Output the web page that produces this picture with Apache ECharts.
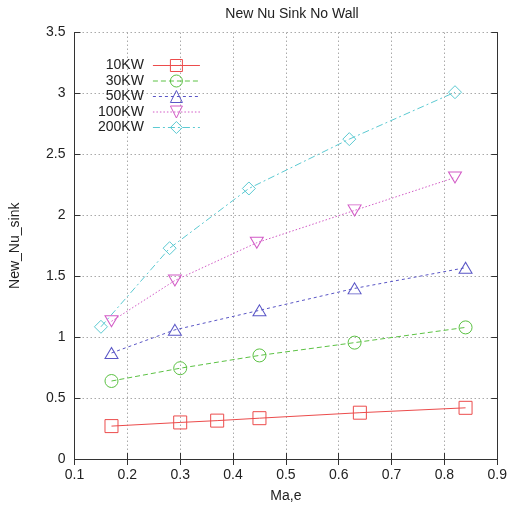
<!DOCTYPE html>
<html>
<head>
<meta charset="utf-8">
<script src="https://cdn.jsdelivr.net/npm/echarts@6/dist/echarts.min.js"></script>
<style>
  html, body { margin: 0; padding: 0; background: #fff; }
  #chart { width: 510px; height: 509px; }
</style>
</head>
<body>
<div id="chart"></div>
<script>
// Nusselt number at the sink versus Ma,e for several heat loads
const seriesNames = ['10KW', '30KW', '50KW', '100KW', '200KW'];

const x10KW = [0.17, 0.30, 0.37, 0.45, 0.64, 0.84];
const y10KW = [0.27, 0.30, 0.315, 0.335, 0.38, 0.42];

const x30KW = [0.17, 0.30, 0.45, 0.63, 0.84];
const y30KW = [0.64, 0.745, 0.85, 0.955, 1.08];

const x50KW = [0.17, 0.29, 0.45, 0.63, 0.84];
const y50KW = [0.87, 1.06, 1.22, 1.40, 1.57];

const x100KW = [0.17, 0.29, 0.445, 0.63, 0.82];
const y100KW = [1.13, 1.465, 1.775, 2.04, 2.31];

const x200KW = [0.15, 0.28, 0.43, 0.62, 0.82];
const y200KW = [1.085, 1.73, 2.22, 2.625, 3.01];

const xTicks = [0.1, 0.2, 0.3, 0.4, 0.5, 0.6, 0.7, 0.8, 0.9];
const yTicks = [0, 0.5, 1, 1.5, 2, 2.5, 3, 3.5];

const FONT = 'Liberation Sans';
const colors = ['#ec4c4c', '#5cc244', '#5a56c6', '#d25ac6', '#5ccad2'];
const dashes = ['solid', [5, 3], [3, 3], [1.5, 2], [7, 3, 2, 3]];
const symbols = ['rect', 'circle', 'triangle', 'path://M0,0 L10,0 L5,8.7 Z', 'diamond'];
const symbolSizes = [13, 13, [13, 11], [13, 11], 13];
const xs = [x10KW, x30KW, x50KW, x100KW, x200KW];
const ys = [y10KW, y30KW, y50KW, y100KW, y200KW];

const chart = echarts.init(document.getElementById('chart'), null, { renderer: 'canvas' });

const frameAxis = {
  axisLine: { show: true, lineStyle: { color: '#333', width: 1 } },
  axisTick: { show: true, inside: true, length: 6, lineStyle: { color: '#333' } }
};

const series = seriesNames.map((name, i) => ({
  name: name,
  type: 'line',
  xAxisIndex: 0,
  yAxisIndex: 0,
  data: xs[i].map((x, k) => [x, ys[i][k]]),
  symbol: symbols[i],
  symbolSize: symbolSizes[i],
  showAllSymbol: true,
  lineStyle: { color: colors[i], width: 1, type: dashes[i] },
  itemStyle: { color: 'rgba(0,0,0,0)', borderColor: colors[i], borderWidth: 1 },
  emphasis: { disabled: true },
  animation: false,
  z: 3
}));

chart.setOption({
  backgroundColor: '#fff',
  animation: false,
  title: {
    text: 'New Nu Sink No Wall',
    left: 287,
    textAlign: 'center',
    top: 2,
    textStyle: { fontFamily: FONT, fontSize: 14, fontWeight: 'normal', color: '#222' }
  },
  grid: { left: 74.5, right: 10, top: 32.5, bottom: 50, containLabel: false },
  legend: {
    orient: 'vertical',
    align: 'right',
    left: 93,
    top: 53.5,
    itemWidth: 47,
    itemHeight: 15,
    itemGap: 1.5,
    data: seriesNames,
    itemStyle: { borderWidth: 1 },
    lineStyle: { width: 1 },
    textStyle: { fontFamily: FONT, fontSize: 14, color: '#222', padding: [0, 4, 0, 0] }
  },
  xAxis: [
    Object.assign({
      type: 'value',
      position: 'bottom',
      min: xTicks[0],
      max: xTicks[xTicks.length - 1],
      interval: 0.1,
      name: 'Ma,e',
      nameLocation: 'middle',
      nameGap: 30,
      nameTextStyle: { fontFamily: FONT, fontSize: 14, color: '#222' },
      axisLabel: {
        margin: 9,
        fontFamily: FONT, fontSize: 14, color: '#222',
        formatter: v => String(Math.round(v * 10) / 10)
      },
      splitLine: { show: true, lineStyle: { color: '#aaa', type: [1.5, 2.5], width: 1 } }
    }, frameAxis),
    Object.assign({
      type: 'value',
      position: 'top',
      min: xTicks[0],
      max: xTicks[xTicks.length - 1],
      interval: 0.1,
      axisLabel: { show: false },
      splitLine: { show: false }
    }, frameAxis)
  ],
  yAxis: [
    Object.assign({
      type: 'value',
      position: 'left',
      min: yTicks[0],
      max: yTicks[yTicks.length - 1],
      interval: 0.5,
      name: 'New_Nu_sink',
      nameLocation: 'middle',
      nameGap: 52,
      nameTextStyle: { fontFamily: FONT, fontSize: 14, color: '#222' },
      axisLabel: {
        margin: 9,
        fontFamily: FONT, fontSize: 14, color: '#222',
        formatter: v => String(v)
      },
      splitLine: { show: true, lineStyle: { color: '#aaa', type: [1.5, 2.5], width: 1 } }
    }, frameAxis),
    Object.assign({
      type: 'value',
      position: 'right',
      min: yTicks[0],
      max: yTicks[yTicks.length - 1],
      interval: 0.5,
      axisLabel: { show: false },
      splitLine: { show: false }
    }, frameAxis)
  ],
  series: series
});
</script>
</body>
</html>
